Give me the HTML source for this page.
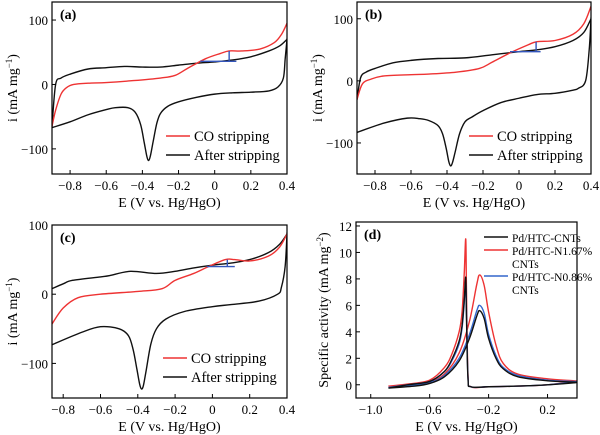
<!DOCTYPE html>
<html><head><meta charset="utf-8">
<style>
body{margin:0;background:#fff;}
svg{display:block;font-family:"Liberation Serif",serif;}
</style></head>
<body>
<svg id="fig" width="600" height="435" viewBox="0 0 600 435" xmlns="http://www.w3.org/2000/svg"></svg>
<script>
// ---- Panel data (E in V, i in mA/mg) ----
const aBlackE=[-0.9,-0.88,-0.85,-0.8,-0.7,-0.6,-0.5,-0.4,-0.3,-0.2,-0.1,0,0.1,0.2,0.3,0.36,0.4,0.4,0.39,0.38,0.35,0.3,0.2,0.1,0,-0.1,-0.2,-0.26,-0.3,-0.32,-0.34,-0.355,-0.365,-0.375,-0.39,-0.41,-0.44,-0.48,-0.55,-0.6,-0.7,-0.8,-0.9];
const aBlackI=[-65,0,10,16,24,26,28,27,27,30,33,35,38,43,52,60,70,70,40,10,-4,-10,-12,-13,-15,-20,-27,-34,-45,-60,-88,-110,-118,-112,-90,-62,-43,-36,-36,-39,-47,-58,-67];
const aRedE=[-0.9,-0.88,-0.85,-0.82,-0.78,-0.7,-0.6,-0.45,-0.3,-0.22,-0.15,-0.05,0.03,0.08,0.15,0.25,0.33,0.37,0.4];
const aRedI=[-65,-40,-15,-5,0,2,3,6,10,14,25,40,48,52,52,55,65,78,95];
const aBlue=[0.08,36,52,-0.08,0.12];

const bBlackE=[-0.9,-0.88,-0.85,-0.8,-0.7,-0.6,-0.45,-0.3,-0.15,0,0.1,0.2,0.3,0.36,0.4,0.4,0.39,0.37,0.33,0.3,0.2,0.1,0,-0.1,-0.2,-0.26,-0.3,-0.33,-0.355,-0.37,-0.38,-0.39,-0.405,-0.425,-0.45,-0.5,-0.55,-0.62,-0.75,-0.9];
const bBlackI=[-30,5,14,20,29,33,36,37,42,47,50,55,65,78,100,100,50,0,-12,-15,-20,-22,-28,-35,-48,-58,-66,-85,-115,-132,-137,-130,-108,-85,-72,-64,-61,-60,-68,-83];
const bRedE=[-0.9,-0.87,-0.82,-0.75,-0.6,-0.5,-0.35,-0.22,-0.15,-0.05,0.05,0.1,0.2,0.3,0.36,0.4];
const bRedI=[-30,-5,3,8,10,11,14,20,30,45,58,63,65,75,92,120];
const bBlue=[0.095,47,63,-0.05,0.12];

const cBlackE=[-0.86,-0.8,-0.75,-0.6,-0.55,-0.44,-0.3,-0.2,-0.1,0,0.1,0.2,0.3,0.36,0.4,0.4,0.39,0.37,0.35,0.25,0.1,0,-0.15,-0.25,-0.3,-0.33,-0.355,-0.37,-0.38,-0.39,-0.405,-0.425,-0.45,-0.5,-0.6,-0.7,-0.86];
const cBlackI=[8,15,20,25,27,33,30,33,38,42,45,50,60,72,87,87,40,10,0,-10,-15,-18,-25,-36,-50,-72,-110,-132,-137,-130,-108,-80,-60,-50,-47,-55,-73];
const cRedE=[-0.86,-0.8,-0.72,-0.6,-0.4,-0.27,-0.2,-0.1,-0.02,0.07,0.12,0.2,0.3,0.36,0.4];
const cRedI=[-43,-20,-5,0,4,8,20,30,40,50,50,48,55,68,87];
const cBlue=[0.08,40,50,-0.03,0.12];

const dE=[-0.88,-0.7,-0.6,-0.5,-0.4,-0.33,-0.28,-0.26,-0.23,-0.2,-0.15,-0.1,0,0.2,0.38,0.38,0.2,0,-0.2,-0.32,-0.34,-0.35,-0.355,-0.365,-0.38,-0.4,-0.45,-0.5,-0.6,-0.75,-0.88];
const dBlack=[-0.25,-0.1,0.1,0.6,1.8,3.5,5.2,5.6,5.0,3.5,2.0,1.2,0.6,0.3,0.2,0.15,0,-0.1,-0.15,-0.15,0.5,5,8.1,6.5,4.5,3.3,1.9,1.0,0.25,0,-0.25];
const dRed=[-0.1,0,0.2,0.8,2.4,4.8,7.6,8.3,7.5,5.5,3.0,1.6,0.8,0.45,0.3,0.25,0,-0.1,-0.15,-0.15,0.8,7,11,8.5,5.5,4.0,2.3,1.3,0.35,0.05,-0.1];
const dBlue=[-0.2,-0.05,0.15,0.7,2.0,3.8,5.6,6.0,5.4,3.8,2.2,1.3,0.7,0.35,0.25,0.2,0,-0.1,-0.15,-0.15,0.6,5.5,7.8,6.2,4.3,3.1,1.8,1.0,0.25,0,-0.2];

const xTicksCV=[-0.8,-0.6,-0.4,-0.2,0,0.2,0.4];
const xTickLabelsCV=["\u22120.8","\u22120.6","\u22120.4","\u22120.2","0","0.2","0.4"];
const yTicksCV=[-100,0,100];
const yTickLabelsCV=["\u2212100","0","100"];
const xTicksD=[-1.0,-0.6,-0.2,0.2];
const xTickLabelsD=["\u22121.0","\u22120.6","\u22120.2","0.2"];
const yTicksD=[0,2,4,6,8,10,12];
const yTickLabelsD=["0","2","4","6","8","10","12"];

const NS="http://www.w3.org/2000/svg";
const svg=document.getElementById('fig');
function el(tag,attrs,parent){const e=document.createElementNS(NS,tag);for(const k in attrs)e.setAttribute(k,attrs[k]);(parent||svg).appendChild(e);return e;}
function smooth(pts){let d="M"+pts[0][0].toFixed(2)+","+pts[0][1].toFixed(2);
 for(let i=0;i<pts.length-1;i++){const p0=pts[Math.max(0,i-1)],p1=pts[i],p2=pts[i+1],p3=pts[Math.min(pts.length-1,i+2)];
  const t=1/6;d+=" C"+(p1[0]+(p2[0]-p0[0])*t).toFixed(2)+","+(p1[1]+(p2[1]-p0[1])*t).toFixed(2)+" "+(p2[0]-(p3[0]-p1[0])*t).toFixed(2)+","+(p2[1]-(p3[1]-p1[1])*t).toFixed(2)+" "+p2[0].toFixed(2)+","+p2[1].toFixed(2);}
 return d;}

function panel(cfg){
 const g=el('g',{});
 
 
 const X=v=>cfg.L+(v-cfg.x0)/(cfg.x1-cfg.x0)*(cfg.R-cfg.L);
 const Y=v=>cfg.B-(v-cfg.y0)/(cfg.y1-cfg.y0)*(cfg.B-cfg.T);
 const clip='clip-'+cfg.name;
 const cp=el('clipPath',{id:clip},g);el('rect',{x:cfg.L,y:cfg.T,width:cfg.R-cfg.L,height:cfg.B-cfg.T},cp);
 const series=el('g',{'clip-path':'url(#'+clip+')'},g);
 cfg.series.forEach(s=>{
  const p=el('path',{d:smooth(s.E.map((e,i)=>[X(e),Y(s.I[i])])),fill:'none',stroke:s.color,'stroke-width':s.w||1.4,'stroke-linejoin':'round'},series);
  
  
 });
 if(cfg.blue){const b=cfg.blue;
  const m=el('path',{d:"M"+X(b[0])+","+Y(b[1])+"V"+Y(b[2])+"M"+X(b[3])+","+Y(b[1])+"H"+X(b[4]),stroke:'#3355bb','stroke-width':1.4,fill:'none'},series);
  
  
 }
 const fr=el('rect',{x:cfg.L,y:cfg.T,width:cfg.R-cfg.L,height:cfg.B-cfg.T,fill:'none',stroke:'#000','stroke-width':1.2},g);
 
 
 cfg.xt.forEach((v,i)=>{const x=X(v);el('line',{x1:x,x2:x,y1:cfg.B,y2:cfg.B-4,stroke:'#000'},g);
  const t=el('text',{x:x,y:cfg.B+16,'text-anchor':'middle','font-size':13},g);t.textContent=cfg.xl[i];
  
  });
 cfg.yt.forEach((v,i)=>{const y=Y(v);el('line',{x1:cfg.L,x2:cfg.L+4,y1:y,y2:y,stroke:'#000'},g);
  const t=el('text',{x:cfg.L-4,y:y+5,'text-anchor':'end','font-size':13},g);t.textContent=cfg.yl[i];
  
  });
 const xt=el('text',{x:(cfg.L+cfg.R)/2,y:cfg.B+33,'text-anchor':'middle','font-size':14},g);xt.textContent="E (V vs. Hg/HgO)";
 
 
 const yt=el('text',{x:0,y:0,'text-anchor':'middle','font-size':14,transform:'translate('+cfg.ylx+','+((cfg.T+cfg.B)/2)+') rotate(-90)'},g);
 yt.innerHTML=cfg.ytitle;
 
 
 const lb=el('text',{x:cfg.L+8,y:cfg.T+17,'font-size':14,'font-weight':'bold'},g);lb.textContent=cfg.label;
 
 
 cfg.legend.forEach(l=>{
  const lg=el('g',{},g);
  
  
  el('line',{x1:l.x,x2:l.x+24,y1:l.y,y2:l.y,stroke:l.color,'stroke-width':1.4},lg);
  l.text.forEach((tx,k)=>{const t=el('text',{x:l.x+28,y:l.y+5+k*13,'font-size':l.fs},lg);t.textContent=tx;});
 });
}
const cvY='i (mA mg<tspan dy="-5" font-size="9">\u22121</tspan><tspan dy="5">)</tspan>';
panel({name:'panel-a',label:'(a)',L:52,R:287,T:2,B:174,x0:-0.9,x1:0.4,y0:-139,y1:128,
 xt:xTicksCV,xl:xTickLabelsCV,yt:yTicksCV,yl:yTickLabelsCV,ylx:17,ytitle:cvY,blue:aBlue,
 series:[{E:aBlackE,I:aBlackI,color:'#111',name:'after-stripping-line'},{E:aRedE,I:aRedI,color:'#ee3333',name:'co-stripping-line'}],
 legend:[{x:166,y:136,color:'#ee3333',text:['CO stripping'],fs:14.5},{x:166,y:155,color:'#111',text:['After stripping'],fs:14.5}]});
panel({name:'panel-b',label:'(b)',L:357,R:591,T:2,B:174,x0:-0.9,x1:0.4,y0:-150,y1:127,
 xt:xTicksCV,xl:xTickLabelsCV,yt:yTicksCV,yl:yTickLabelsCV,ylx:322,ytitle:cvY,blue:bBlue,
 series:[{E:bBlackE,I:bBlackI,color:'#111',name:'after-stripping-line'},{E:bRedE,I:bRedI,color:'#ee3333',name:'co-stripping-line'}],
 legend:[{x:469,y:136,color:'#ee3333',text:['CO stripping'],fs:14.5},{x:469,y:155,color:'#111',text:['After stripping'],fs:14.5}]});
panel({name:'panel-c',label:'(c)',L:52,R:287,T:225,B:398,x0:-0.86,x1:0.4,y0:-150,y1:100,
 xt:xTicksCV,xl:xTickLabelsCV,yt:yTicksCV,yl:yTickLabelsCV,ylx:17,ytitle:cvY,blue:cBlue,
 series:[{E:cBlackE,I:cBlackI,color:'#111',name:'after-stripping-line'},{E:cRedE,I:cRedI,color:'#ee3333',name:'co-stripping-line'}],
 legend:[{x:163,y:358,color:'#ee3333',text:['CO stripping'],fs:14.5},{x:163,y:377,color:'#111',text:['After stripping'],fs:14.5}]});
panel({name:'panel-d',label:'(d)',L:356,R:577,T:222,B:398,x0:-1.1,x1:0.4,y0:-1.0,y1:12.3,
 xt:xTicksD,xl:xTickLabelsD,yt:yTicksD,yl:yTickLabelsD,ylx:328,ytitle:'Specific activity (mA mg<tspan dy="-5" font-size="9">\u22122</tspan><tspan dy="5">)</tspan>',
 series:[{E:dE,I:dRed,color:'#ee3333',name:'pd-htc-n1.67-line'},{E:dE,I:dBlue,color:'#3366cc',name:'pd-htc-n0.86-line'},{E:dE,I:dBlack,color:'#111',name:'pd-htc-cnts-line'}],
 legend:[{x:484,y:237,color:'#111',text:['Pd/HTC-CNTs'],fs:11.5},{x:484,y:250,color:'#ee3333',text:['Pd/HTC-N1.67%','CNTs'],fs:11.5},{x:484,y:276,color:'#3366cc',text:['Pd/HTC-N0.86%','CNTs'],fs:11.5}]});
</script>
</body></html>
